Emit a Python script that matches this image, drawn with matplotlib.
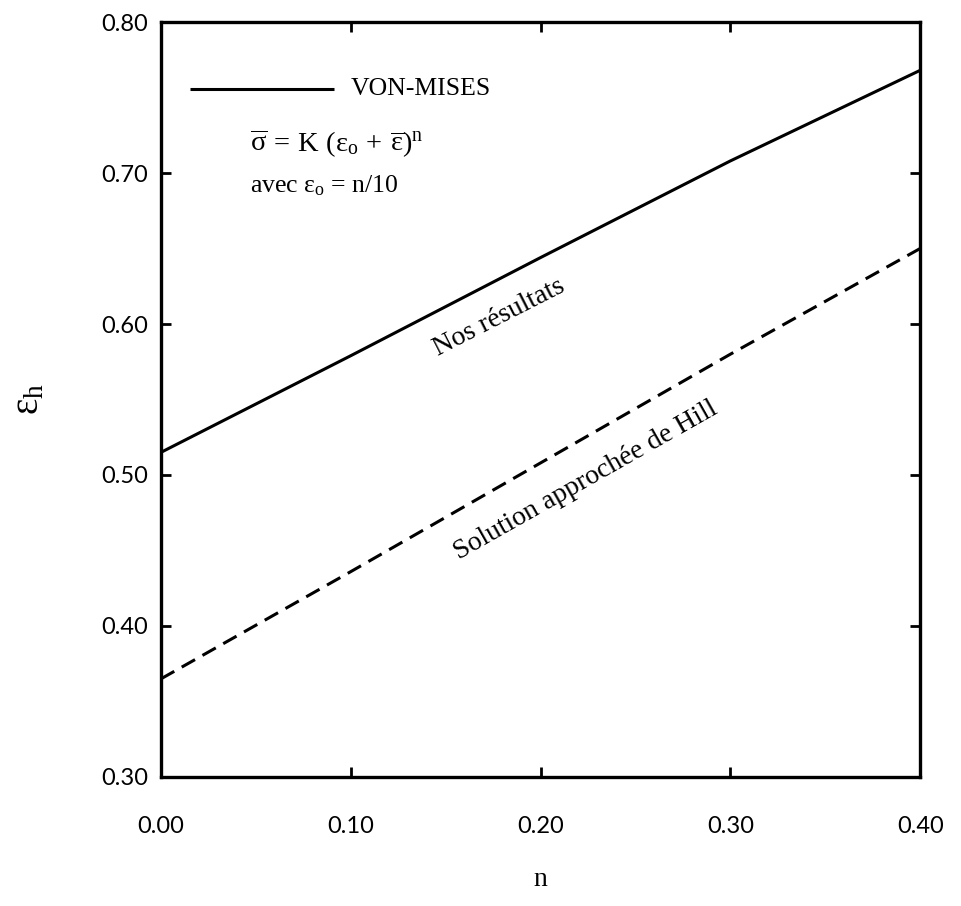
import matplotlib
matplotlib.use("Agg")
import matplotlib.pyplot as plt

n_values = [0.00, 0.10, 0.20, 0.30, 0.40]
von_mises = [0.515, 0.579, 0.644, 0.708, 0.768]
hill = [0.365, 0.436, 0.508, 0.580, 0.650]
x_ticks = [0.00, 0.10, 0.20, 0.30, 0.40]
y_ticks = [0.30, 0.40, 0.50, 0.60, 0.70, 0.80]

plt.rcParams['mathtext.fontset'] = 'custom'
plt.rcParams['mathtext.rm'] = 'Liberation Serif'
plt.rcParams['mathtext.it'] = 'Liberation Serif'
plt.rcParams['mathtext.bf'] = 'Liberation Serif:bold'
serif = ['Liberation Serif', 'DejaVu Serif']
tickfont = 'Lato'

fig = plt.figure(figsize=(9.61, 9.06), dpi=100)
ax = fig.add_axes([0.1675, 0.1424, 0.79, 0.8333])

ax.plot(n_values, von_mises, color='black', lw=2.2, solid_capstyle='butt')
ax.plot(n_values, hill, color='black', lw=2.2, linestyle=(0, (5, 2.8)))

ax.set_xlim(0, 0.40)
ax.set_ylim(0.30, 0.80)
ax.set_xticks(x_ticks)
ax.set_yticks(y_ticks)
ax.set_xticklabels([f"{v:.2f}" for v in x_ticks], fontfamily=tickfont, fontsize=17)
ax.set_yticklabels([f"{v:.2f}" for v in y_ticks], fontfamily=tickfont, fontsize=17)
ax.tick_params(axis='both', direction='in', length=7, width=2, top=True, right=True)
ax.tick_params(axis='x', pad=28)
ax.tick_params(axis='y', pad=9)
for s in ax.spines.values():
    s.set_linewidth(2.4)

ax.set_xlabel('n', fontfamily=serif, fontsize=20, labelpad=22)
ax.set_ylabel(r'$\varepsilon_{\mathrm{h}}$', fontsize=28, labelpad=40)

# legend-like annotation
ax.plot([0.0155, 0.091], [0.7559, 0.7559], color='black', lw=2.2, solid_capstyle='butt')
ax.text(0.1, 0.7559, 'VON-MISES', fontfamily=serif, fontsize=18.5, va='center', ha='left')
ax.text(0.047, 0.7195,
        r'$\overline{\sigma}\,=\,\mathrm{K}\ (\varepsilon_{\mathrm{o}}\,+\,\overline{\varepsilon})^{\mathrm{n}}$',
        fontsize=20.5, va='center', ha='left')
ax.text(0.047, 0.6915, r'avec $\varepsilon_{\mathrm{o}}$ = n/10', fontfamily=serif,
        fontsize=18.5, va='center', ha='left')

ax.text(0.178, 0.604, 'Nos résultats', fontfamily=serif, fontsize=20,
        rotation=27, ha='center', va='center', rotation_mode='anchor')
ax.text(0.224, 0.496, 'Solution approchée de Hill', fontsize=20, fontfamily=serif,
        rotation=29.5, ha='center', va='center', rotation_mode='anchor')

fig.savefig('out.png', dpi=100)
